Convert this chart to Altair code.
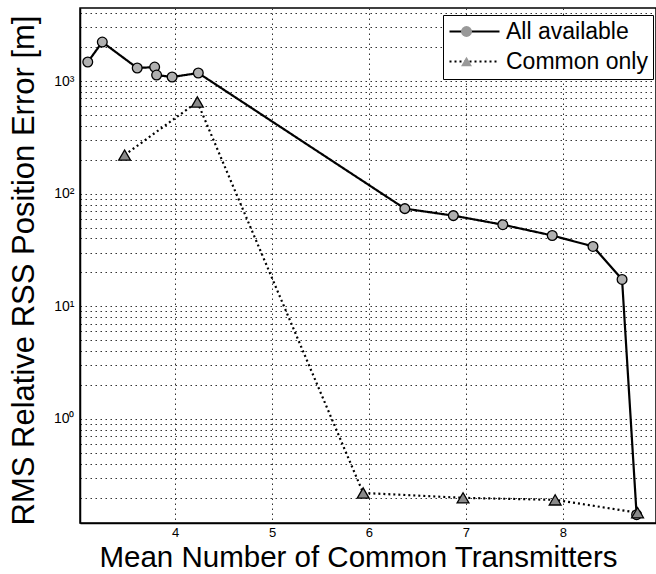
import altair as alt
import pandas as pd

# ---- data ----
series_names = ["All available", "Common only"]

x_all = [3.10, 3.25, 3.61, 3.79, 3.81, 3.97, 4.24, 6.37, 6.87, 7.38, 7.89, 8.31, 8.61, 8.76]
y_all = [1475, 2218, 1305, 1330, 1130, 1085, 1178, 73.6, 63.8, 53.0, 42.5, 34.0, 17.3, 0.141]

x_common = [3.48, 4.23, 5.94, 6.97, 7.92, 8.77]
y_common = [220, 652, 0.22, 0.199, 0.191, 0.147]

x_ticks = [4, 5, 6, 7, 8]
y_ticks = ([m / 10 for m in range(2, 10)] + list(range(1, 10)) +
           [m * 10 for m in range(1, 10)] + [m * 100 for m in range(1, 10)] +
           [m * 1000 for m in range(1, 5)])

df = pd.concat([
    pd.DataFrame({"x": x_all, "y": y_all, "series": series_names[0]}),
    pd.DataFrame({"x": x_common, "y": y_common, "series": series_names[1]}),
], ignore_index=True)
df["line_series"] = df["series"]

FONT = "Liberation Sans"

x_enc = alt.X(
    "x:Q",
    scale=alt.Scale(domain=[3.02, 8.96], nice=False, zero=False),
    axis=alt.Axis(
        values=x_ticks, title="Mean Number of Common Transmitters",
        titleFontSize=29.5, titleFont=FONT, titleFontWeight="normal", titleColor="black",
        titleX=278, titleY=43, titleBaseline="alphabetic",
        labelFontSize=13, labelFont=FONT, labelColor="black", labelPadding=3,
        ticks=False, domainColor="black", domainWidth=1.5,
        grid=True, gridColor="#333", gridDash=[1.5, 3.5], gridWidth=1,
    ),
)
y_enc = alt.Y(
    "y:Q",
    scale=alt.Scale(type="log", domain=[0.119, 4450], nice=False),
    axis=alt.Axis(
        values=y_ticks, title="RMS Relative RSS Position Error [m]",
        labelExpr="datum.value == 1 ? '10⁰' : datum.value == 10 ? '10¹' : datum.value == 100 ? '10²' : datum.value == 1000 ? '10³' : ''",
        labelOverlap=False,
        titleFontSize=31, titleFont=FONT, titleFontWeight="normal", titleColor="black",
        titleX=-47, titleY=262, titleBaseline="alphabetic",
        labelFontSize=14, labelFont=FONT, labelColor="black", labelPadding=6,
        ticks=False, domainColor="black", domainWidth=1.5,
        grid=True, gridColor="#333", gridDash=[1.5, 3.5], gridWidth=1,
    ),
)

base = alt.Chart(df)

# lines: their legend draws the box, the labels and the line samples
lines = base.mark_line(color="black", strokeWidth=2.2).encode(
    x=x_enc, y=y_enc,
    strokeDash=alt.StrokeDash(
        "line_series:N",
        scale=alt.Scale(range=[[1, 0], [2, 3]]),
        legend=alt.Legend(
            title=None, orient="none", legendX=363, legendY=7,
            symbolType="stroke", symbolSize=2500, symbolStrokeWidth=2.2,
            symbolStrokeColor="black", clipHeight=23,
            labelFontSize=23, labelFont=FONT, labelColor="black", labelOffset=5,
            padding=5, rowPadding=6, strokeColor="black", fillColor="white",
            zindex=1,
        ),
    ),
)

points = base.mark_point(filled=True, stroke="black", strokeWidth=1.3, opacity=1).encode(
    x=x_enc, y=y_enc,
    shape=alt.Shape("series:N", scale=alt.Scale(domain=series_names, range=["circle", "triangle-up"]), legend=None),
    fill=alt.Fill("series:N", scale=alt.Scale(domain=series_names, range=["#b0b0b0", "#8a8a8a"]), legend=None),
    size=alt.Size("series:N", scale=alt.Scale(domain=series_names, range=[95, 140]), legend=None),
)

# invisible copy whose legend puts the marker samples on top of the line samples
marker_legend = base.mark_point(filled=True, fill="#999999", stroke="black", opacity=0).encode(
    x=x_enc, y=y_enc,
    shape=alt.Shape(
        "series:N",
        scale=alt.Scale(domain=series_names, range=["circle", "triangle-up"]),
        legend=alt.Legend(
            title=None, orient="none", legendX=363, legendY=7,
            symbolSize=120, symbolStrokeWidth=1.3, symbolFillColor="#999999",
            symbolStrokeColor="black", symbolOpacity=1, symbolOffset=7, clipHeight=23,
            labelExpr="' '", labelFontSize=23, labelFont=FONT, labelColor="transparent",
            padding=5, rowPadding=6, zindex=2,
        ),
    ),
)

chart = alt.layer(lines, points, marker_legend).resolve_scale(
    shape="independent"
).properties(
    width=576, height=515,
    padding={"left": 80, "top": 8, "right": 0, "bottom": 51},
    autosize="none",
).configure_view(stroke="black", strokeWidth=1.5)

chart.save("out.html", embed_options={"renderer": "svg", "actions": False})
